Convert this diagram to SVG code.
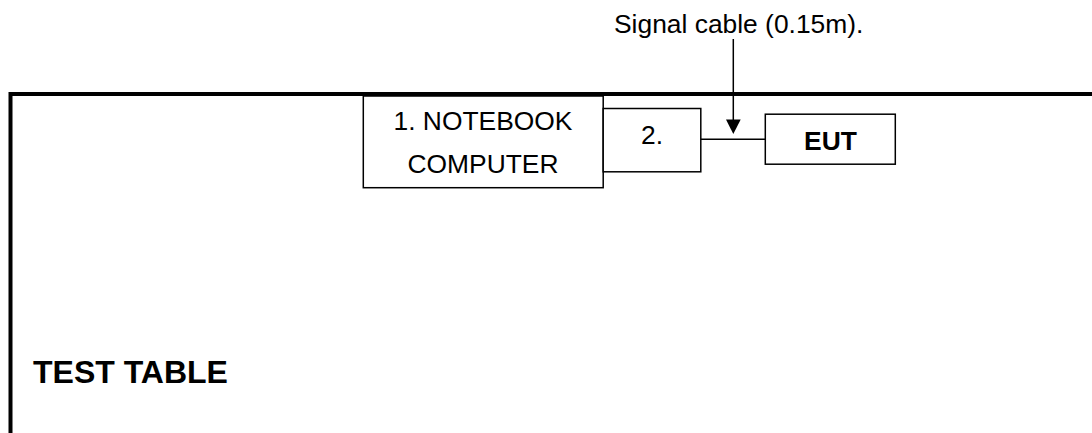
<svg xmlns="http://www.w3.org/2000/svg" width="1092" height="433" viewBox="0 0 1092 433">
<style>
.box{fill:#fff;stroke:#000;stroke-width:1.5}
.t{font-family:"Liberation Sans",Arial,sans-serif;font-size:26.4px;fill:#000}
.b{font-weight:bold}
.thin{stroke:#000;stroke-width:1.5;fill:none}
</style>
<rect width="1092" height="433" fill="#fff"/>
<g id="table">
<path d="M10.5,433 V94 H1092" fill="none" stroke="#000" stroke-width="4"/>
<text class="t b" x="33" y="383" style="font-size:32px">TEST TABLE</text>
</g>
<g id="connectors">
<line class="thin" x1="700.8" y1="139.2" x2="765.3" y2="139.2"/>
<line class="thin" x1="733.3" y1="39" x2="733.3" y2="121"/>
<path d="M726,119.5 L740.7,119.5 L733.3,134 Z" fill="#000"/>
<text class="t" x="614" y="33">Signal cable (0.15m).</text>
</g>
<g id="notebook">
<rect class="box" x="363.3" y="96" width="239.9" height="91.7"/>
<text class="t" x="483" y="130" text-anchor="middle">1. NOTEBOOK</text>
<text class="t" x="483" y="173" text-anchor="middle">COMPUTER</text>
</g>
<g id="node2">
<rect class="box" x="603.2" y="108.5" width="97.6" height="63.3"/>
<text class="t" x="652" y="144" text-anchor="middle">2.</text>
</g>
<g id="eut">
<rect class="box" x="765.3" y="114.2" width="130" height="50"/>
<text class="t b" x="830.5" y="150" text-anchor="middle">EUT</text>
</g>
</svg>
